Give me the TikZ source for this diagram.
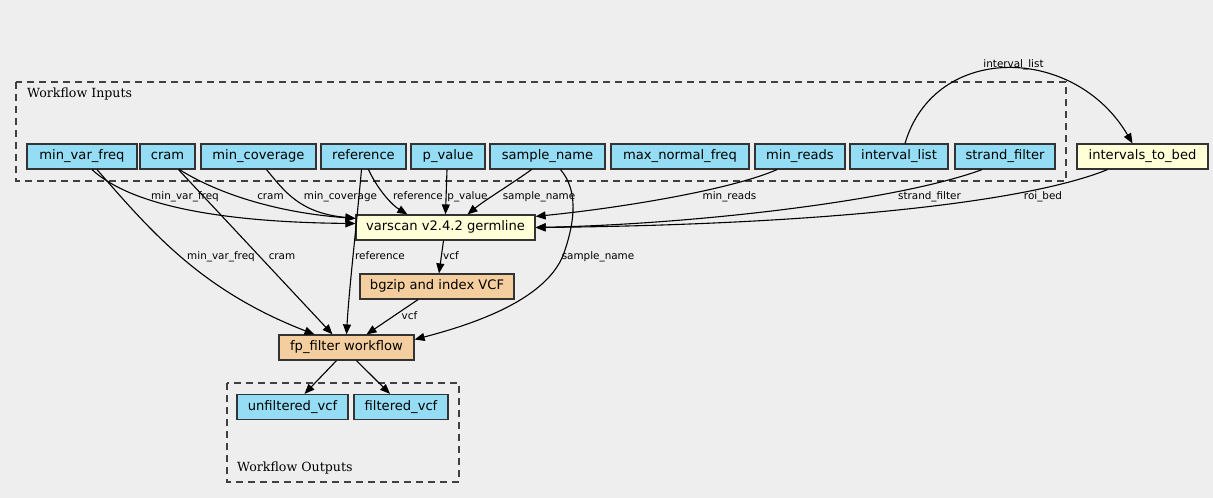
\documentclass[tikz,border=0pt]{standalone}
\usepackage{fontspec}
\newfontfamily\nodefont{DejaVu Sans}
\newfontfamily\clfont{DejaVu Serif}
\usetikzlibrary{arrows.meta,calc}
\definecolor{bg}{HTML}{EEEEEE}
\definecolor{inblue}{HTML}{94DDF4}
\definecolor{stepyel}{HTML}{FFFFD8}
\definecolor{steptan}{HTML}{F4CE9E}
\definecolor{bord}{HTML}{333333}
\begin{document}
\begin{tikzpicture}[x=1pt,y=-1pt,
  box/.style={draw=bord, line width=1.2pt, minimum height=25pt, inner sep=0pt,
    text height=9.5pt, text depth=2.7pt,
    font={\nodefont\fontsize{13.1}{15}\selectfont}},
  inp/.style={box, fill=inblue},
  tool/.style={box, fill=stepyel},
  wf/.style={box, fill=steptan},
  edge/.style={line width=1.1pt, draw=black, -{Triangle[length=10pt,width=8pt]}},
  lbl/.style={font={\nodefont\fontsize{10.4}{12}\selectfont}, inner sep=0pt,
    text height=7.6pt, text depth=2.2pt},
  clus/.style={draw=black!75, line width=1.2pt, dash pattern=on 7pt off 5pt},
  cllbl/.style={font={\clfont\fontsize{12.6}{14}\selectfont}, inner sep=0pt, anchor=west}]
\fill[bg] (0,0) rectangle (1213,498);
\useasboundingbox (0,0) rectangle (1213,498);
% clusters
\draw[clus] (16,82) rectangle (1066,181);
\node[cllbl] (inlbl) at (27,94) {Workflow Inputs};
\draw[clus] (227,383) rectangle (459,482);
\node[cllbl] (outlbl) at (237,468) {Workflow Outputs};
% input nodes
\node[inp, minimum width=110pt] (mvf) at (82,156.5) {min\_var\_freq};
\node[inp, minimum width=55pt] (cram) at (167.5,156.5) {cram};
\node[inp, minimum width=115pt] (mcov) at (258.5,156.5) {min\_coverage};
\node[inp, minimum width=85pt] (ref) at (363.5,156.5) {reference};
\node[inp, minimum width=74pt] (pval) at (448,156.5) {p\_value};
\node[inp, minimum width=115pt] (sname) at (547.5,156.5) {sample\_name};
\node[inp, minimum width=138pt] (mnf) at (680,156.5) {max\_normal\_freq};
\node[inp, minimum width=90pt] (mreads) at (800,156.5) {min\_reads};
\node[inp, minimum width=98pt] (ilist) at (899,156.5) {interval\_list};
\node[inp, minimum width=100pt] (sfilt) at (1005,156.5) {strand\_filter};
\node[tool, minimum width=131pt] (itb) at (1142.5,156.5) {intervals\_to\_bed};
% steps
\node[tool, minimum width=179pt] (vs) at (445.5,227.5) {varscan v2.4.2 germline};
\node[wf, minimum width=154pt] (bgz) at (437,286.5) {bgzip and index VCF};
\node[wf, minimum width=135pt] (fp) at (346.5,347.5) {fp\_filter workflow};
% outputs
\node[inp, minimum width=111pt] (unf) at (292.5,407) {unfiltered\_vcf};
\node[inp, minimum width=94pt] (filt) at (401,407) {filtered\_vcf};
% edges to varscan
\draw[edge] ($(mvf.south)+(10,0)$) .. controls (125,200) and (200,222) .. ($(vs.west)+(0,-4)$);
\draw[edge] ($(cram.south)+(12,0)$) .. controls (220,195) and (280,213) .. ($(vs.north west)+(0,4)$);
\draw[edge] ($(mcov.south)+(8,0)$) .. controls (285,192) and (300,213) .. ($(vs.north west)+(0,4)$);
\draw[edge] ($(ref.south)+(5,0)$) .. controls (378,190) and (392,205) .. ($(vs.north west)+(52,0)$);
\draw[edge] ($(pval.south)+(-1,0)$) -- (vs.north);
\draw[edge] ($(sname.south)+(-16,0)$) .. controls (510,185) and (485,200) .. ($(vs.north)+(22,0)$);
\draw[edge] ($(mreads.south)+(-23,0)$) .. controls (730,190) and (620,208) .. ($(vs.north east)+(0,2)$);
\draw[edge] ($(sfilt.south)+(-23,0)$) .. controls (900,200) and (700,224) .. (vs.east);
\draw[edge] ($(itb.south)+(-35,0)$) .. controls (1020,205) and (800,225) .. (vs.east);
\draw[edge] ($(ilist.north)+(6,0)$) .. controls (935,42) and (1075,45) .. ($(itb.north)+(-10,0)$);
% edges to fp_filter
\draw[edge] ($(mvf.south)+(15,0)$) .. controls (150,230) and (200,290) .. ($(fp.north)+(-32,0)$);
\draw[edge] ($(cram.south)+(11,0)$) -- ($(fp.north)+(-14,0)$);
\draw[edge] ($(ref.south)+(-2,0)$) .. controls (356,230) and (349,290) .. (fp.north);
\draw[edge] ($(sname.south)+(13,0)$) .. controls (578,190) and (575,220) .. (565,250) .. controls (550,300) and (470,325) .. ($(fp.east)+(0,-8)$);
\draw[edge] ($(vs.south)+(-2,0)$) -- ($(bgz.north)+(2,0)$);
\draw[edge] ($(bgz.south)+(-19,0)$) -- ($(fp.north)+(20,0)$);
\draw[edge] ($(fp.south)+(-10,0)$) -- ($(unf.north)+(12,0)$);
\draw[edge] ($(fp.south)+(10,0)$) -- ($(filt.north)+(-11,0)$);
% edge labels
\node[lbl] (l1) at (185,197) {min\_var\_freq};
\node[lbl] (l2) at (270.5,197) {cram};
\node[lbl] (l3) at (340.5,197) {min\_coverage};
\node[lbl] (l4) at (418,197) {reference};
\node[lbl] (l5) at (467.5,197) {p\_value};
\node[lbl] (l6) at (539,197) {sample\_name};
\node[lbl] (l7) at (729.5,197) {min\_reads};
\node[lbl] (l8) at (929.5,197) {strand\_filter};
\node[lbl] (l9) at (1043,197) {roi\_bed};
\node[lbl] (l10) at (1013.5,65) {interval\_list};
\node[lbl] (l11) at (221,257) {min\_var\_freq};
\node[lbl] (l12) at (282,257) {cram};
\node[lbl] (l13) at (380,257) {reference};
\node[lbl] (l14) at (451,257) {vcf};
\node[lbl] (l15) at (598,257) {sample\_name};
\node[lbl] (l16) at (409.5,317) {vcf};
\end{tikzpicture}
\end{document}
